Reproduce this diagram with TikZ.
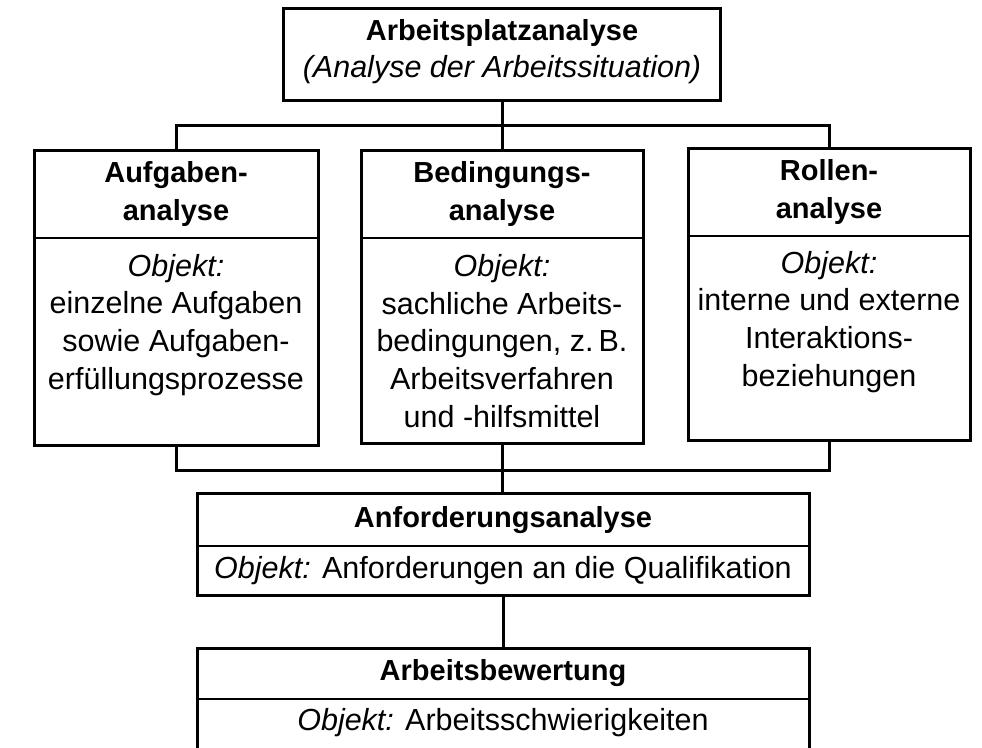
\documentclass[tikz,border=0pt]{standalone}
\usepackage{fontspec}
\setmainfont{Liberation Sans}
\begin{document}
\begin{tikzpicture}[x=1pt,y=-1pt,
  box/.style={draw=black,line width=3pt,rectangle,inner sep=0pt},
  conn/.style={draw=black,line width=3pt},
  divl/.style={draw=black,line width=2.6pt},
  txt/.style={align=center,inner sep=0pt,font=\fontsize{30.5}{37.8}\selectfont},
  ttl/.style={txt,font=\fontsize{29}{37.8}\selectfont\bfseries}]
\useasboundingbox (0,0) rectangle (982,747);
% boxes
\node[box,minimum width=437pt,minimum height=92pt] (top) at (502,54) {};
\node[box,minimum width=284pt,minimum height=295pt] (A) at (176,297.5) {};
\node[box,minimum width=282pt,minimum height=293pt] (B) at (502,296.5) {};
\node[box,minimum width=282pt,minimum height=292pt] (C) at (829,294) {};
\node[box,minimum width=612pt,minimum height=102pt] (D) at (503,544) {};
\node[box,minimum width=612pt,minimum height=116pt] (E) at (503,706) {};
% dividers
\draw[divl] (A.west |- 0,238) -- (A.east |- 0,238);
\draw[divl] (B.west |- 0,238) -- (B.east |- 0,238);
\draw[divl] (C.west |- 0,236) -- (C.east |- 0,236);
\draw[divl] (D.west |- 0,546) -- (D.east |- 0,546);
\draw[divl] (E.west |- 0,699) -- (E.east |- 0,699);
% texts
\node[ttl] (topt) at (502,33) {Arbeitsplatzanalyse};
\node[txt,font=\fontsize{30.5}{37.8}\selectfont\itshape] (tops) at (502,70) {(Analyse der Arbeitssituation)};
\node[ttl] (At) at (176,194) {Aufgaben-\\analyse};
\node[txt] (Ab) at (176,325) {\textit{Objekt:}\\einzelne Aufgaben\\sowie Aufgaben-\\erfüllungsprozesse};
\node[ttl] (Bt) at (502,194) {Bedingungs-\\analyse};
\node[txt] (Bb) at (502,341) {\textit{Objekt:}\\sachliche Arbeits-\\bedingungen, z.\,B.\\Arbeitsverfahren\\und -hilfsmittel};
\node[ttl] (Ct) at (829,192) {Rollen-\\analyse};
\node[txt] (Cb) at (829,322) {\textit{Objekt:}\\interne und externe\\Interaktions-\\beziehungen};
\node[ttl] (Dt) at (503,520) {Anforderungsanalyse};
\node[txt] (Db) at (503,571) {\textit{Objekt:} Anforderungen an die Qualifikation};
\node[ttl] (Et) at (503,673) {Arbeitsbewertung};
\node[txt] (Eb) at (503,723) {\textit{Objekt:} Arbeitsschwierigkeiten};
% connectors
\coordinate (j1) at (502,125);
\coordinate (j2) at (502,470);
\draw[conn] (top.south) -- (B.north);
\draw[conn] (A.north) -- (A.north |- j1) -| (C.north);
\draw[conn] (A.south) -- (A.south |- j2) -| (C.south);
\draw[conn] (B.south) -- (B.south |- D.north);
\draw[conn] (D.south) -- (D.south |- E.north);
\end{tikzpicture}
\end{document}
